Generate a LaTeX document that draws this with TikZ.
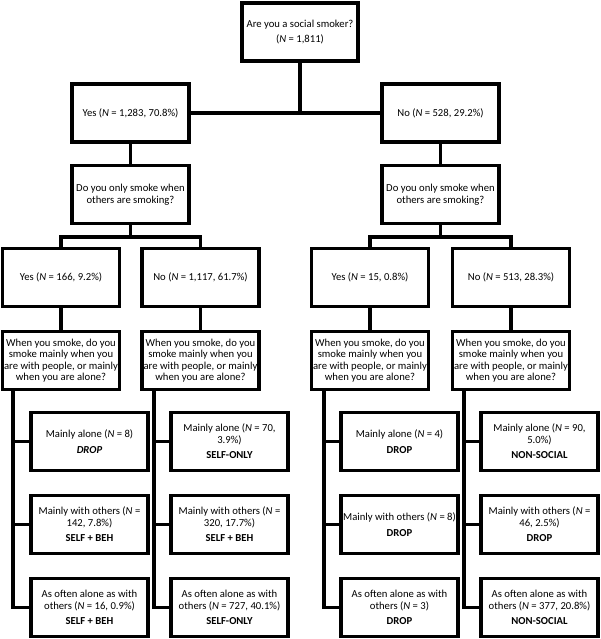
\documentclass[tikz,border=0pt]{standalone}
\usepackage{fontspec}
\setmainfont{Carlito}
\begin{document}
\begin{tikzpicture}[x=0.75pt,y=-0.75pt,
  box/.style={draw, line width=2.4pt, minimum width=87.75pt, minimum height=43.5pt,
    align=center, inner sep=0.5pt, font=\fontsize{8}{8.6}\selectfont},
  conn/.style={line width=2.4pt, line cap=rect}]
\useasboundingbox (0,0) rectangle (600,639);
% level 0
\node[box, minimum width=87pt] (top) at (300,32) {Are you a social smoker?\\[2pt](\textit{N} = 1,811)};
% level 1
\node[box] (yes1) at (130.5,113) {Yes (\textit{N} = 1,283, 70.8\%)};
\node[box] (no1) at (440.5,113) {No (\textit{N} = 528, 29.2\%)};
% level 2
\node[box] (q2L) at (130.5,194.5) {Do you only smoke when\\others are smoking?};
\node[box] (q2R) at (440.5,194.5) {Do you only smoke when\\others are smoking?};
% level 3
\node[box] (ya) at (61,277.5) {Yes (\textit{N} = 166, 9.2\%)};
\node[box] (nb) at (200.5,277.5) {No (\textit{N} = 1,117, 61.7\%)};
\node[box] (yc) at (370,277.5) {Yes (\textit{N} = 15, 0.8\%)};
\node[box] (nd) at (511,277.5) {No (\textit{N} = 513, 28.3\%)};
% level 4
\foreach \n/\x in {qa/61, qb/200.5, qc/370, qd/511}
  \node[box] (\n) at (\x,360.5) {When you smoke, do you\\smoke mainly when you\\are with people, or mainly\\when you are alone?};
% leaves
\node[box] (la1) at (89.5,441.5) {Mainly alone (\textit{N} = 8)\\[3pt]\textbf{\textit{DROP}}};
\node[box] (la2) at (89.5,524.5) {Mainly with others (\textit{N} =\\142, 7.8\%)\\[3pt]\textbf{SELF + BEH}};
\node[box] (la3) at (89.5,607.5) {As often alone as with\\others (\textit{N} = 16, 0.9\%)\\[3pt]\textbf{SELF + BEH}};
\node[box] (lb1) at (229.5,441.5) {Mainly alone (\textit{N} = 70,\\3.9\%)\\[3pt]\textbf{SELF-ONLY}};
\node[box] (lb2) at (229.5,524.5) {Mainly with others (\textit{N} =\\320, 17.7\%)\\[3pt]\textbf{SELF + BEH}};
\node[box] (lb3) at (229.5,607.5) {As often alone as with\\others (\textit{N} = 727, 40.1\%)\\[3pt]\textbf{SELF-ONLY}};
\node[box] (lc1) at (399.5,441.5) {Mainly alone (\textit{N} = 4)\\[3pt]\textbf{DROP}};
\node[box] (lc2) at (399.5,524.5) {Mainly with others (\textit{N} = 8)\\[3pt]\textbf{DROP}};
\node[box] (lc3) at (399.5,607.5) {As often alone as with\\others (\textit{N} = 3)\\[3pt]\textbf{DROP}};
\node[box] (ld1) at (539.5,441.5) {Mainly alone (\textit{N} = 90,\\5.0\%)\\[3pt]\textbf{NON-SOCIAL}};
\node[box] (ld2) at (539.5,524.5) {Mainly with others (\textit{N} =\\46, 2.5\%)\\[3pt]\textbf{DROP}};
\node[box] (ld3) at (539.5,607.5) {As often alone as with\\others (\textit{N} = 377, 20.8\%)\\[3pt]\textbf{NON-SOCIAL}};
% connectors
\coordinate (j0) at (300,113);
\draw[conn] (top.south) -- (j0);
\draw[conn] (yes1.east) -- (no1.west);
\draw[conn] (yes1.south) -- (q2L.north);
\draw[conn] (no1.south) -- (q2R.north);
\coordinate (jL) at (130.5,237);
\coordinate (jR) at (440.5,237);
\draw[conn] (q2L.south) -- (jL);
\draw[conn] (q2R.south) -- (jR);
\draw[conn] (ya.north) |- (jL) -| (nb.north);
\draw[conn] (yc.north) |- (jR) -| (nd.north);
\foreach \a/\b in {ya/qa, nb/qb, yc/qc, nd/qd}
  \draw[conn] (\a.south) -- (\b.north);
\foreach \q/\l/\sx in {qa/la/13, qb/lb/154, qc/lc/324, qd/ld/464} {
  \coordinate (s\l) at (\sx,390);
  \draw[conn] (s\l) |- (\l3.west);
  \draw[conn] (s\l |- \l1.west) -- (\l1.west);
  \draw[conn] (s\l |- \l2.west) -- (\l2.west);
}
\end{tikzpicture}
\end{document}
